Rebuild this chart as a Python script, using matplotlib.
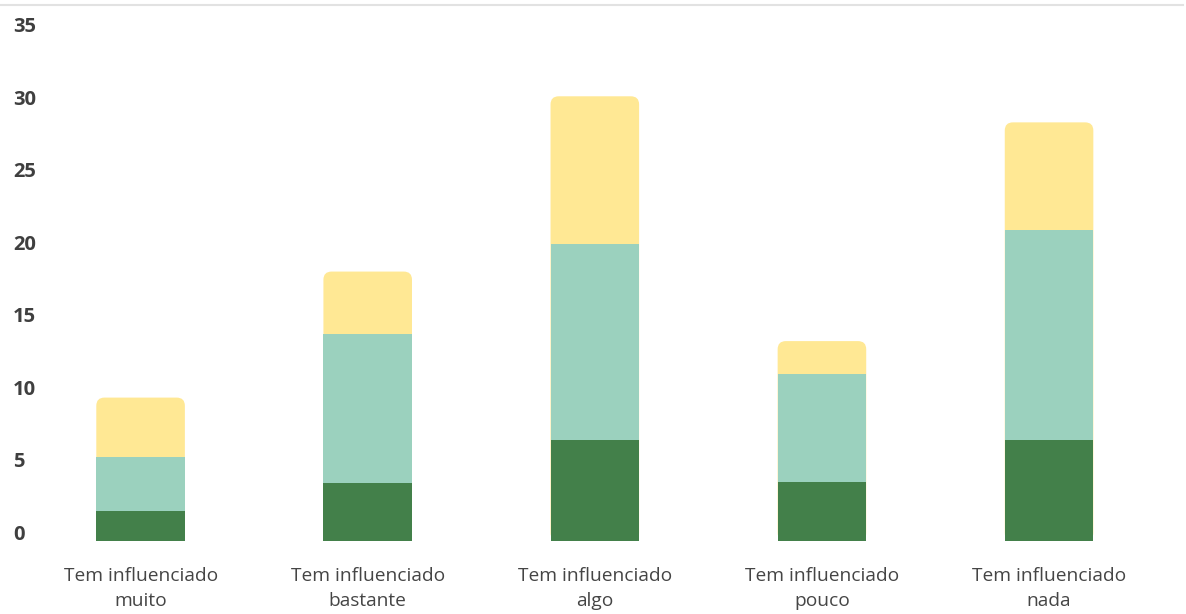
import matplotlib.pyplot as plt
import matplotlib.transforms as mtransforms
from matplotlib.patches import FancyBboxPatch
from matplotlib.lines import Line2D

# categorias e valores
categorias = ['Tem influenciado\nmuito', 'Tem influenciado\nbastante',
              'Tem influenciado\nalgo', 'Tem influenciado\npouco',
              'Tem influenciado\nnada']
verde_escuro = [2.1, 4.0, 7.0, 4.1, 7.0]
verde_claro = [3.7, 10.3, 13.5, 7.4, 14.5]
amarelo = [4.1, 4.3, 10.2, 2.3, 7.4]
yticks = [0, 5, 10, 15, 20, 25, 30, 35]

cor_escuro = '#43804a'
cor_claro = '#9bd1be'
cor_amarelo = '#ffe894'

plt.rcParams['font.family'] = ['Open Sans', 'DejaVu Sans']

fig = plt.figure(figsize=(11.86, 6.14), dpi=100)
ax = fig.add_axes([0, 73 / 614, 1, 507 / 614])

x = list(range(len(categorias)))
largura = 0.39
base2 = [a + b for a, b in zip(verde_escuro, verde_claro)]
total = [a + b for a, b in zip(base2, amarelo)]

ax.set_xlim(-0.619, 4.603)
ax.set_ylim(0, 35)

# barra amarela inteira com cantos arredondados, depois as outras por cima
barras = ax.bar(x, total, largura, color=cor_amarelo)
aspect = (35 / 507) / (1 / 227.1)
for b in barras:
    b.set_visible(False)
    p = FancyBboxPatch((b.get_x(), 0), b.get_width(), b.get_height(),
                       boxstyle='round,pad=0,rounding_size=0.036',
                       mutation_aspect=aspect, fc=cor_amarelo, ec='none')
    ax.add_patch(p)

ax.bar(x, verde_claro, largura, bottom=verde_escuro, color=cor_claro, zorder=3)
ax.bar(x, verde_escuro, largura, color=cor_escuro, zorder=3)

for s in ax.spines.values():
    s.set_visible(False)

ax.set_xticks(x)
ax.set_xticklabels(categorias, fontsize=13.8, color='#454545', linespacing=1.45)
ax.tick_params(axis='x', length=0, pad=19)

ax.set_yticks(yticks)
ax.set_yticklabels([str(v) for v in yticks], fontsize=14.5, fontweight='bold',
                   color='#3f3f3f')
ax.tick_params(axis='y', length=0, pad=-9.5)
offset = mtransforms.ScaledTranslation(0, 9 / 100, fig.dpi_scale_trans)
for lbl in ax.get_yticklabels():
    lbl.set_ha('left')
    lbl.set_transform(lbl.get_transform() + offset)

# linha cinza no topo
fig.add_artist(Line2D([0, 1183 / 1186], [1 - 5 / 614, 1 - 5 / 614],
                      color='#e2e2e2', lw=1.5, transform=fig.transFigure))

fig.savefig('out.png', dpi=100)
